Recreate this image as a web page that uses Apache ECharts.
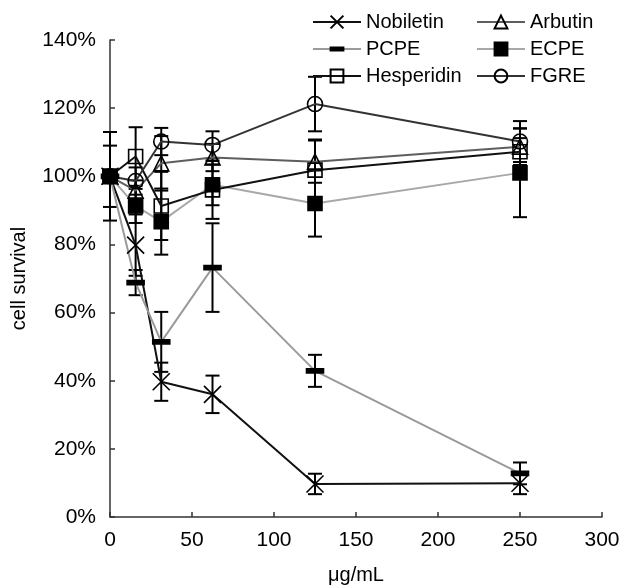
<!DOCTYPE html>
<html><head><meta charset="utf-8">
<script src="https://cdn.jsdelivr.net/npm/echarts@6/dist/echarts.min.js"></script>
<style>html,body{margin:0;padding:0;background:#fff}#c{width:626px;height:586px}</style>
</head><body><div id="c"></div>
<script>
const doses = [0, 15.625, 31.25, 62.5, 125, 250];
const nobiletin = [100, 79.8, 39.7, 36.0, 9.7, 9.9];
const nobiletinErr = [9, 9, 5.6, 5.5, 3.0, 3.2];
const arbutin = [100, 95.8, 103.8, 105.5, 104.3, 108.7];
const arbutinErr = [0, 3, 8, 4, 6.2, 5.4];
const pcpe = [100, 68.8, 51.4, 73.2, 42.9, 12.8];
const pcpeErr = [13, 3.7, 8.8, 13, 4.7, 3.2];
const ecpe = [100, 91.3, 86.7, 97.5, 92.0, 101.0];
const ecpeErr = [0, 5, 9.7, 6, 9.7, 13];
const hesperidin = [100, 105.8, 91.3, 96.0, 101.8, 107.2];
const hesperidinErr = [0, 8.6, 10, 8.5, 9, 4];
const fgre = [100, 98.6, 110.2, 109.2, 121.2, 110.2];
const fgreErr = [0, 4, 4, 4, 8, 6];
const yTicks = [0, 20, 40, 60, 80, 100, 120, 140];

const FONT = '"Liberation Sans", Arial, sans-serif';
const xSym = 'path://M0,0L10,10M0,10L10,0';
const dashSym = 'path://M0,0M14,14M0,5.3L14,5.3L14,8.7L0,8.7Z';

const defs = [
  {name:'Nobiletin', v:nobiletin, e:nobiletinErr, line:'#111', sym:xSym, size:17, fill:'rgba(0,0,0,0)'},
  {name:'Arbutin', v:arbutin, e:arbutinErr, line:'#5e5e5e', sym:'triangle', size:15, fill:'rgba(0,0,0,0)'},
  {name:'PCPE', v:pcpe, e:pcpeErr, line:'#9a9a9a', sym:dashSym, size:17, fill:'#000'},
  {name:'ECPE', v:ecpe, e:ecpeErr, line:'#a8a8a8', sym:'rect', size:14, fill:'#000'},
  {name:'Hesperidin', v:hesperidin, e:hesperidinErr, line:'#111', sym:'rect', size:14, fill:'rgba(0,0,0,0)'},
  {name:'FGRE', v:fgre, e:fgreErr, line:'#333', sym:'circle', size:15, fill:'rgba(0,0,0,0)'}
];

const errData = [];
defs.forEach(d => d.v.forEach((v, i) => { if (d.e[i] > 0) errData.push([doses[i], v - d.e[i], v + d.e[i]]); }));

function renderErr(params, api) {
  const x = api.value(0), lo = api.value(1), hi = api.value(2);
  const p1 = api.coord([x, lo]), p2 = api.coord([x, hi]);
  const w = 7;
  const st = {stroke:'#000', lineWidth:2};
  return {type:'group', children:[
    {type:'line', shape:{x1:p1[0], y1:p1[1], x2:p2[0], y2:p2[1]}, style:st},
    {type:'line', shape:{x1:p1[0]-w, y1:p1[1], x2:p1[0]+w, y2:p1[1]}, style:st},
    {type:'line', shape:{x1:p2[0]-w, y1:p2[1], x2:p2[0]+w, y2:p2[1]}, style:st}
  ]};
}

const series = [{
  type:'custom', name:'err', renderItem: renderErr, data: errData,
  encode:{x:0, y:[1,2]}, z:1, silent:true
}];
defs.forEach(d => {
  series.push({
    type:'line', name:d.name,
    data: d.v.map((v, i) => [doses[i], v]),
    symbol: d.sym, symbolSize: d.size, showAllSymbol:true,
    lineStyle:{color:d.line, width:2},
    itemStyle:{color:d.fill, borderColor:'#000', borderWidth:1.6},
    z:2, animation:false
  });
});

const legendBase = {
  orient:'vertical', itemWidth:48, itemHeight:16, itemGap:7, padding:0,
  textStyle:{fontFamily:FONT, fontSize:20, color:'#000'}, selectedMode:false
};

const chart = echarts.init(document.getElementById('c'));
chart.setOption({
  animation:false,
  textStyle:{fontFamily:FONT},
  grid:{left:110, top:40, width:492, height:477, containLabel:false, outerBoundsMode:'none'},
  legend:[
    Object.assign({left:312, top:12, data:['Nobiletin','PCPE','Hesperidin']}, legendBase),
    Object.assign({left:476, top:12, data:['Arbutin','ECPE','FGRE']}, legendBase)
  ],
  xAxis:{
    type:'value', min:0, max:300, interval:50,
    name:'μg/mL', nameLocation:'middle', nameGap:48,
    nameTextStyle:{fontFamily:FONT, fontSize:20, color:'#000'},
    axisLine:{lineStyle:{color:'#333', width:1.5}},
    axisTick:{inside:true, length:5, lineStyle:{color:'#333', width:1.5}},
    axisLabel:{fontFamily:FONT, fontSize:21, color:'#000', margin:13},
    splitLine:{show:false}
  },
  yAxis:{
    type:'value', min:yTicks[0], max:yTicks[yTicks.length-1], interval:20,
    name:'cell survival', nameLocation:'middle', nameGap:81,
    nameTextStyle:{fontFamily:FONT, fontSize:20, color:'#000'},
    axisLine:{show:true, lineStyle:{color:'#333', width:1.5}},
    axisTick:{show:true, inside:true, length:5, lineStyle:{color:'#333', width:1.5}},
    axisLabel:{fontFamily:FONT, fontSize:21, color:'#000', margin:14, formatter:'{value}%'},
    splitLine:{show:false}
  },
  series: series
});
</script></body></html>
